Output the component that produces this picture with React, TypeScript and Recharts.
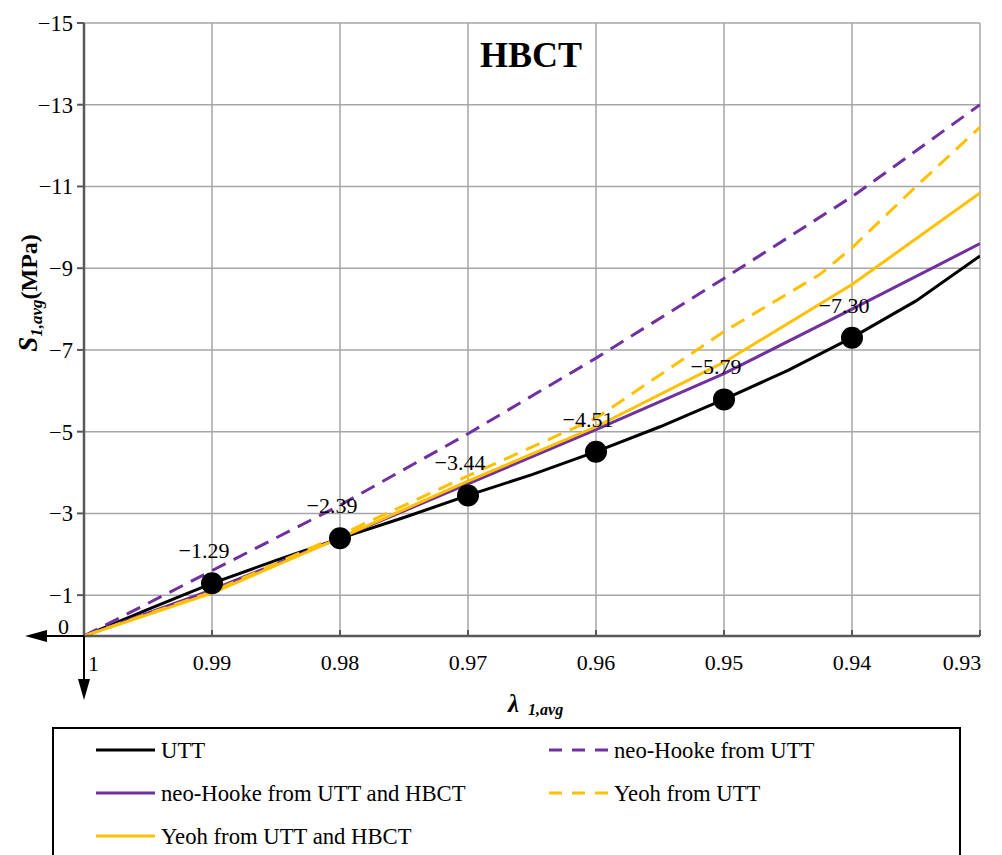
import { LineChart, Line, XAxis, YAxis, CartesianGrid, LabelList } from 'recharts';

// stretch ratio (x) and stress in MPa (y)
const lambdaFine = [1, 0.995, 0.99, 0.985, 0.98, 0.975, 0.97, 0.965, 0.96, 0.955, 0.95, 0.945, 0.94, 0.935, 0.93];
const uttStress = [0, -0.65, -1.29, -1.85, -2.39, -2.9, -3.44, -3.95, -4.51, -5.12, -5.79, -6.5, -7.3, -8.2, -9.3];

const lambdaStep = [1, 0.99, 0.98, 0.97, 0.96, 0.95, 0.94, 0.93];
const neoHookeUtt = [0, -1.6, -3.2, -4.95, -6.8, -8.75, -10.75, -13.0];
const neoHookeUttHbct = [0, -1.13, -2.4, -3.72, -5.05, -6.42, -8.0, -9.6];
const yeohUttHbct = [0, -1.05, -2.4, -3.79, -5.12, -6.7, -8.6, -10.84];

const lambdaYeoh = [1, 0.99, 0.98, 0.97, 0.96, 0.95, 0.945, 0.9425, 0.94, 0.935, 0.93];
const yeohUtt = [0, -1.08, -2.47, -3.92, -5.33, -7.45, -8.38, -8.85, -9.5, -11.0, -12.45];

const markerLambda = [0.99, 0.98, 0.97, 0.96, 0.95, 0.94];
const markerStress = [-1.29, -2.39, -3.44, -4.51, -5.79, -7.3];

const xTicks = [1, 0.99, 0.98, 0.97, 0.96, 0.95, 0.94, 0.93];
const yTicks = [0, -1, -3, -5, -7, -9, -11, -13, -15];

const zip = (xs: number[], ys: number[]) => xs.map((x, i) => ({ x, y: ys[i] }));

const PURPLE = '#7030A0';
const GOLD = '#FFC000';
const FONT = 'Liberation Serif, Times New Roman, serif';

const series = [
  { name: 'UTT', data: zip(lambdaFine, uttStress), color: '#000000', dash: undefined },
  { name: 'neo-Hooke from UTT', data: zip(lambdaStep, neoHookeUtt), color: PURPLE, dash: '15 9' },
  { name: 'neo-Hooke from UTT and HBCT', data: zip(lambdaStep, neoHookeUttHbct), color: PURPLE, dash: undefined },
  { name: 'Yeoh from UTT', data: zip(lambdaYeoh, yeohUtt), color: GOLD, dash: '15 9' },
  { name: 'Yeoh from UTT and HBCT', data: zip(lambdaStep, yeohUttHbct), color: GOLD, dash: undefined },
];

const markers = zip(markerLambda, markerStress);

const fmt = (v: number) => (v < 0 ? '\u2212' + Math.abs(v).toFixed(2) : v.toFixed(2));

const XTick = (props: any) => {
  const { x, y, payload } = props;
  const v = payload.value;
  if (v === 1) {
    return (
      <g>
        <line x1={x} y1={y} x2={x} y2={y + 44} stroke="#000" strokeWidth={2} />
        <polygon points={`${x - 6},${y + 43} ${x + 6},${y + 43} ${x},${y + 64}`} fill="#000" />
        <text x={x + 4} y={y + 35} fontSize={22} fill="#000">1</text>
      </g>
    );
  }
  const last = v === 0.93;
  return (
    <g>
      <line x1={x} y1={y - 6} x2={x} y2={y} stroke="#595959" strokeWidth={2} />
      <text x={last ? x - 18 : x} y={y + 34} textAnchor="middle" fontSize={22} fill="#000">
        {v.toFixed(2)}
      </text>
    </g>
  );
};

const YTick = (props: any) => {
  const { x, y, payload } = props;
  const v = payload.value;
  if (v === 0) {
    return (
      <g>
        <line x1={x - 38} y1={y} x2={x} y2={y} stroke="#000" strokeWidth={2} />
        <polygon points={`${x - 37},${y - 6} ${x - 37},${y + 6} ${x - 59},${y}`} fill="#000" />
        <text x={x - 15} y={y - 2} textAnchor="end" fontSize={22} fill="#000">0</text>
      </g>
    );
  }
  return (
    <g>
      <line x1={x - 7} y1={y} x2={x} y2={y} stroke="#595959" strokeWidth={2} />
      <text x={x - 11} y={y + 8} textAnchor="end" fontSize={22.5} fill="#000">
        {'\u2212' + Math.abs(v)}
      </text>
    </g>
  );
};

const MarkerLabel = (props: any) => {
  const { x, y, value } = props;
  return (
    <text x={x - 8} y={y - 25} textAnchor="middle" fontSize={22} fill="#000">
      {fmt(value)}
    </text>
  );
};

export default function App() {
  return (
    <div style={{ position: 'relative', width: 1002, height: 855, overflow: 'hidden', background: '#fff' }}>
      <style>{`body{margin:0} svg text, svg tspan { font-family: ${FONT} !important; }`}</style>
      <LineChart width={1002} height={855} margin={{ top: 23, right: 22, left: 0, bottom: 179 }}>
        <CartesianGrid stroke="#a6a6a6" strokeWidth={1.5} />
        <XAxis
          dataKey="x"
          type="number"
          domain={[0.93, 1]}
          reversed
          allowDataOverflow
          ticks={xTicks}
          interval={0}
          height={40}
          tickSize={0}
          tickMargin={0}
          tickLine={false}
          tick={<XTick />}
          axisLine={{ stroke: '#595959', strokeWidth: 2.5 }}
        />
        <YAxis
          type="number"
          domain={[-15, 0]}
          reversed
          allowDataOverflow
          ticks={yTicks}
          interval={0}
          width={84}
          tickSize={0}
          tickMargin={0}
          tickLine={false}
          tick={<YTick />}
          axisLine={{ stroke: '#595959', strokeWidth: 2.5 }}
        />
        {series.map((s) => (
          <Line
            key={s.name}
            data={s.data}
            dataKey="y"
            name={s.name}
            type="linear"
            stroke={s.color}
            strokeWidth={3}
            strokeDasharray={s.dash}
            dot={false}
            isAnimationActive={false}
          />
        ))}
        <Line
          data={markers}
          dataKey="y"
          name="UTT points"
          stroke="none"
          dot={{ r: 11, fill: '#000', stroke: 'none' }}
          isAnimationActive={false}
        >
          <LabelList dataKey="y" content={<MarkerLabel />} />
        </Line>
      </LineChart>

      <svg width={1002} height={855} style={{ position: 'absolute', left: 0, top: 0, pointerEvents: 'none' }}>
        <text x={531} y={67} textAnchor="middle" fontSize={36} fontWeight="bold" fill="#000">
          HBCT
        </text>
        <text x={508} y={712} fontWeight="bold" fontStyle="italic" fill="#000">
          <tspan fontSize={25}>λ</tspan>
          <tspan fontSize={16} dx={9} dy={3}>1,avg</tspan>
        </text>
        <text x={37} y={293} textAnchor="middle" transform="rotate(-90 37 293)" fontWeight="bold" fill="#000">
          <tspan fontSize={27} fontStyle="italic">S</tspan>
          <tspan fontSize={17} fontStyle="italic" dy={5}>1,avg</tspan>
          <tspan fontSize={24} dy={-5}>(MPa)</tspan>
        </text>

        <rect x={53} y={728} width={907} height={160} fill="none" stroke="#000" strokeWidth={2} />
        {series.map((s, i) => {
          const col = i % 2;
          const row = Math.floor(i / 2);
          const lx = col === 0 ? 96 : 549;
          const cy = 750 + row * 43;
          return (
            <g key={s.name}>
              <line x1={lx} y1={cy} x2={lx + 59} y2={cy} stroke={s.color} strokeWidth={3} strokeDasharray={s.dash ? '13 10' : undefined} />
              <text x={lx + 65} y={cy + 8} fontSize={22.7} fill="#000">{s.name}</text>
            </g>
          );
        })}
      </svg>
    </div>
  );
}
